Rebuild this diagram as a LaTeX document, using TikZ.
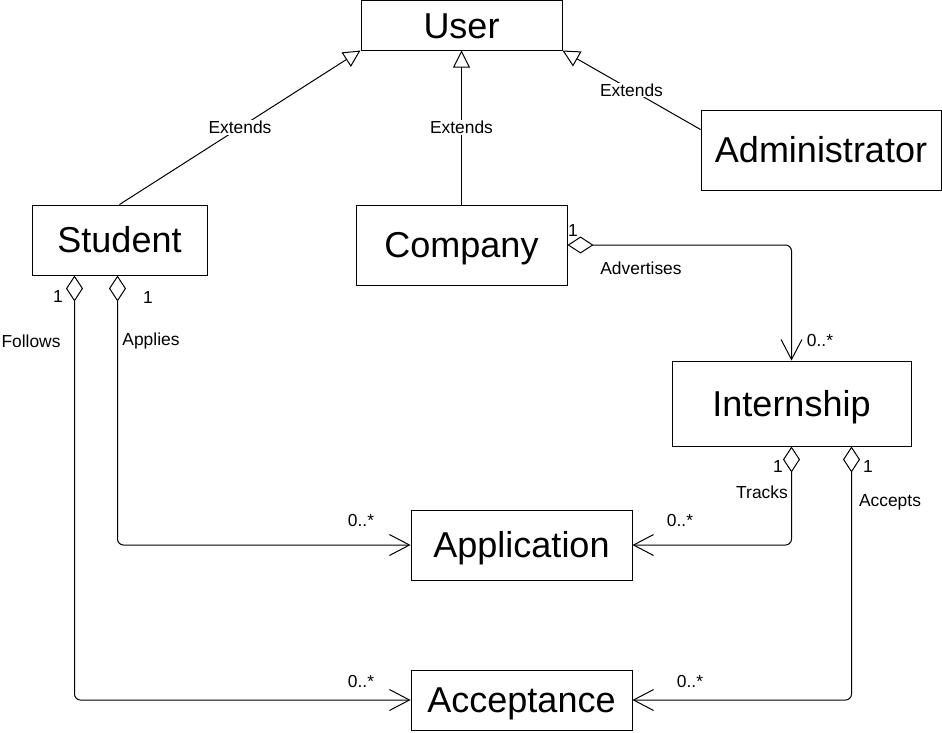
\documentclass[tikz,border=0pt]{standalone}
\usepackage{fontspec}
\setmainfont{Liberation Sans}
\usetikzlibrary{arrows.meta,calc}
\begin{document}
\begin{tikzpicture}[x=1pt,y=-1pt,
  cls/.style={draw=black,line width=1pt,fill=white,inner sep=0pt,text height=25.8pt,text depth=0pt,font=\fontsize{36}{40}\selectfont},
  lbl/.style={inner sep=1pt,font=\fontsize{17.4}{20}\selectfont},
  elbl/.style={lbl,fill=white},
  gen/.style={line width=1pt,-{Triangle[open,length=17pt,width=17pt]}},
  agg/.style={line width=1pt,rounded corners=6pt,{Diamond[open,length=26pt,width=17pt]}-{Straight Barb[length=20pt,width=21pt]}}
]
\useasboundingbox (0,0) rectangle (942,732);
\node[cls,minimum width=201pt,minimum height=49.5pt] (user) at (461.5,25.25) {User};
\node[cls,minimum width=175pt,minimum height=70pt] (student) at (119.5,240) {Student};
\node[cls,minimum width=211pt,minimum height=80pt] (company) at (461.5,245) {Company};
\node[cls,minimum width=240pt,minimum height=80pt] (admin) at (821,150) {Administrator};
\node[cls,minimum width=239pt,minimum height=85pt] (intern) at (791.5,403.5) {Internship};
\node[cls,minimum width=221pt,minimum height=70pt] (appl) at (521.5,545) {Application};
\node[cls,minimum width=221pt,minimum height=60pt] (accept) at (521.5,700) {Acceptance};

\coordinate (ae) at ($(admin.north west)+(0,20)$);
\coordinate (sf) at ($(student.south west)+(43,0)$);
\coordinate (sa) at ($(student.south west)+(86,0)$);
\coordinate (it) at ($(intern.south west)+(120,0)$);
\coordinate (ia) at ($(intern.south west)+(180,0)$);

\draw[gen] (student.north) -- node[elbl] {Extends} (user.south west);
\draw[gen] (company.north) -- node[elbl] {Extends} (user.south);
\draw[gen] (ae) -- node[elbl] {Extends} (user.south east);

\draw[agg] (company.east) -| (intern.north);
\draw[agg] (sa) |- (appl.west);
\draw[agg] (sf) |- (accept.west);
\draw[agg] (it) |- (appl.east);
\draw[agg] (ia) |- (accept.east);

\node[lbl] (m1) at (573,231) {1};
\node[lbl] (m2) at (641,268) {Advertises};
\node[lbl] (m3) at (820,341) {0..*};
\node[lbl] (m4) at (58,297) {1};
\node[lbl] (m5) at (31,341) {Follows};
\node[lbl] (m6) at (148,298) {1};
\node[lbl] (m7) at (151,341) {Applies};
\node[lbl] (m8) at (361,520) {0..*};
\node[lbl] (m9) at (361,681) {0..*};
\node[lbl] (m10) at (778,467) {1};
\node[lbl] (m11) at (762,492) {Tracks};
\node[lbl] (m12) at (680,520) {0..*};
\node[lbl] (m13) at (868,467) {1};
\node[lbl] (m14) at (890,502) {Accepts};
\node[lbl] (m15) at (690,681) {0..*};
\end{tikzpicture}
\end{document}
